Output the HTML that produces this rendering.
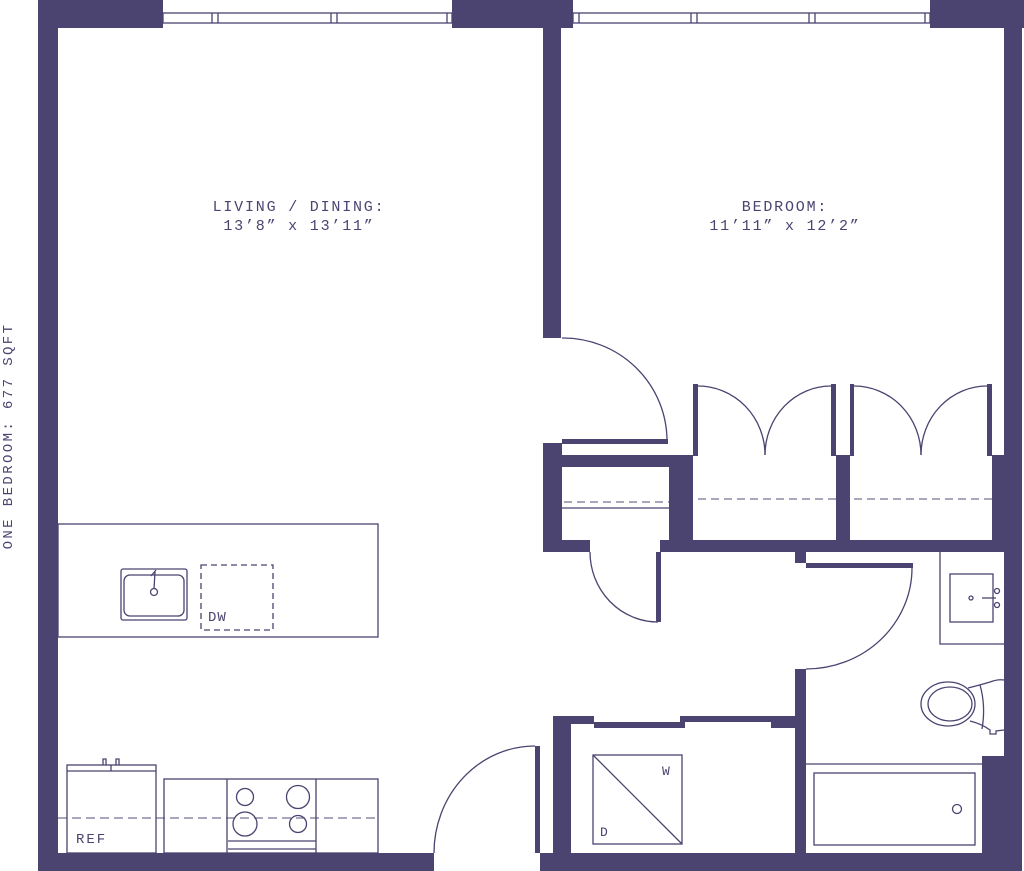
<!DOCTYPE html>
<html><head><meta charset="utf-8"><style>
html,body{margin:0;padding:0;background:#fff;}
svg{display:block;}
text{font-family:"Liberation Mono",monospace;fill:#4b4370;}
</style></head><body>
<svg width="1024" height="871" viewBox="0 0 1024 871" xmlns="http://www.w3.org/2000/svg">
<g fill="#4b4370">
<rect x="38" y="0" width="125" height="28"/>
<rect x="38" y="0" width="20" height="871"/>
<rect x="452" y="0" width="121" height="28"/>
<rect x="543" y="0" width="18" height="338"/>
<rect x="930" y="0" width="94" height="28"/>
<rect x="1004" y="0" width="18" height="871"/>
<rect x="38" y="853" width="396" height="18"/>
<rect x="540" y="853" width="482" height="18"/>
<rect x="562" y="439" width="106" height="5"/>
<rect x="543" y="443" width="19" height="109"/>
<rect x="543" y="455" width="150" height="12"/>
<rect x="669" y="455" width="24" height="97"/>
<rect x="543" y="540" width="47" height="12"/>
<rect x="660" y="540" width="362" height="12"/>
<rect x="656" y="552" width="5" height="70"/>
<rect x="836" y="455" width="14" height="90"/>
<rect x="992" y="455" width="14" height="90"/>
<rect x="693" y="384" width="5" height="72"/>
<rect x="831" y="384" width="5" height="72"/>
<rect x="850" y="384" width="4" height="72"/>
<rect x="987" y="384" width="5" height="72"/>
<rect x="795" y="552" width="11" height="11"/>
<rect x="806" y="563" width="107" height="5"/>
<rect x="795" y="669" width="11" height="184"/>
<rect x="982" y="756" width="24" height="97"/>
<rect x="553" y="716" width="18" height="137"/>
<rect x="553" y="716" width="41" height="8"/>
<rect x="594" y="722" width="91" height="6"/>
<rect x="680" y="716" width="115" height="6"/>
<rect x="771" y="722" width="24" height="6"/>
<rect x="535" y="746" width="5" height="107"/>
</g>
<g fill="none" stroke="#4b4370" stroke-width="1.3">
<rect x="163" y="13" width="289" height="10"/>
<path d="M212 13v10M218 13v10M331 13v10M337 13v10M447 13v10"/>
<rect x="573" y="13" width="357" height="10"/>
<path d="M579 13v10M691 13v10M697 13v10M809 13v10M815 13v10M925 13v10"/>
<path d="M562 338 A104 103 0 0 1 667 441"/>
<path d="M590 552 A68 70 0 0 0 658 622"/>
<path d="M912 568 A106 101 0 0 1 806 669"/>
<path d="M434 853 A101 107 0 0 1 535 746"/>
<path d="M698 386 A67 69 0 0 1 765 455"/>
<path d="M831 386 A66 69 0 0 0 765 455"/>
<path d="M854 386 A67 69 0 0 1 921 455"/>
<path d="M987 386 A66 69 0 0 0 921 455"/>
<path d="M562 508H669"/>
<path d="M564 502H669M698 499H836M854 499H992" stroke-dasharray="8 5" opacity="0.75"/>
<rect x="58" y="524" width="320" height="113"/>
<rect x="121" y="569" width="66" height="51" rx="2"/>
<rect x="124" y="575" width="60" height="41" rx="6"/>
<circle cx="154" cy="592" r="3.5"/>
<path d="M154 589 L155 572 M151 576 L156 570"/>
<rect x="201" y="565" width="72" height="65" stroke-dasharray="6 4"/>
<rect x="67" y="765" width="89" height="88"/>
<path d="M67 771H156M111 765v6"/>
<path d="M103 765v-6h3v6M116 765v-6h3v6"/>
<rect x="164" y="779" width="214" height="74"/>
<path d="M227 779V853M316 779V853M228 841H316M228 849H316"/>
<circle cx="245" cy="797" r="8.5"/>
<circle cx="298" cy="797" r="11.5"/>
<circle cx="245" cy="824" r="12"/>
<circle cx="298" cy="824" r="8.5"/>
<path d="M58 818H378" stroke-dasharray="9 5" opacity="0.75"/>
<rect x="593" y="755" width="89" height="89"/>
<path d="M593 755L682 844"/>
<path d="M940 552V644H1004"/>
<rect x="950" y="574" width="43" height="48"/>
<circle cx="971" cy="598" r="2"/>
<path d="M982 598H996"/>
<circle cx="997" cy="591" r="2.5"/>
<circle cx="997" cy="605" r="2.5"/>
<ellipse cx="948" cy="704" rx="27" ry="22"/>
<ellipse cx="950" cy="704" rx="22" ry="17"/>
<path d="M968 688 Q980 685 990 682 Q998 679 1004 680 M970 721 Q982 724 990 730 L990 734 L996 734 L996 731 L1004 730 M980 685 Q986 706 982 729"/>
<path d="M806 764H982"/>
<rect x="814" y="773" width="161" height="72"/>
<circle cx="957" cy="809" r="4.5"/>
</g>
<g font-size="15" text-anchor="middle" letter-spacing="1.8">
<text x="299" y="211">LIVING / DINING:</text>
<text x="299" y="230">13’8” x 13’11”</text>
<text x="785" y="211">BEDROOM:</text>
<text x="785" y="230">11’11” x 12’2”</text>
</g>
<text x="76" y="843" font-size="14" letter-spacing="2">REF</text>
<text x="208" y="621" font-size="14" letter-spacing="1">DW</text>
<text x="662" y="775" font-size="13">W</text>
<text x="600" y="836" font-size="13">D</text>
<text transform="translate(12,436) rotate(-90)" font-size="14" text-anchor="middle" letter-spacing="2.4">ONE BEDROOM: 677 SQFT</text>
</svg>
</body></html>
